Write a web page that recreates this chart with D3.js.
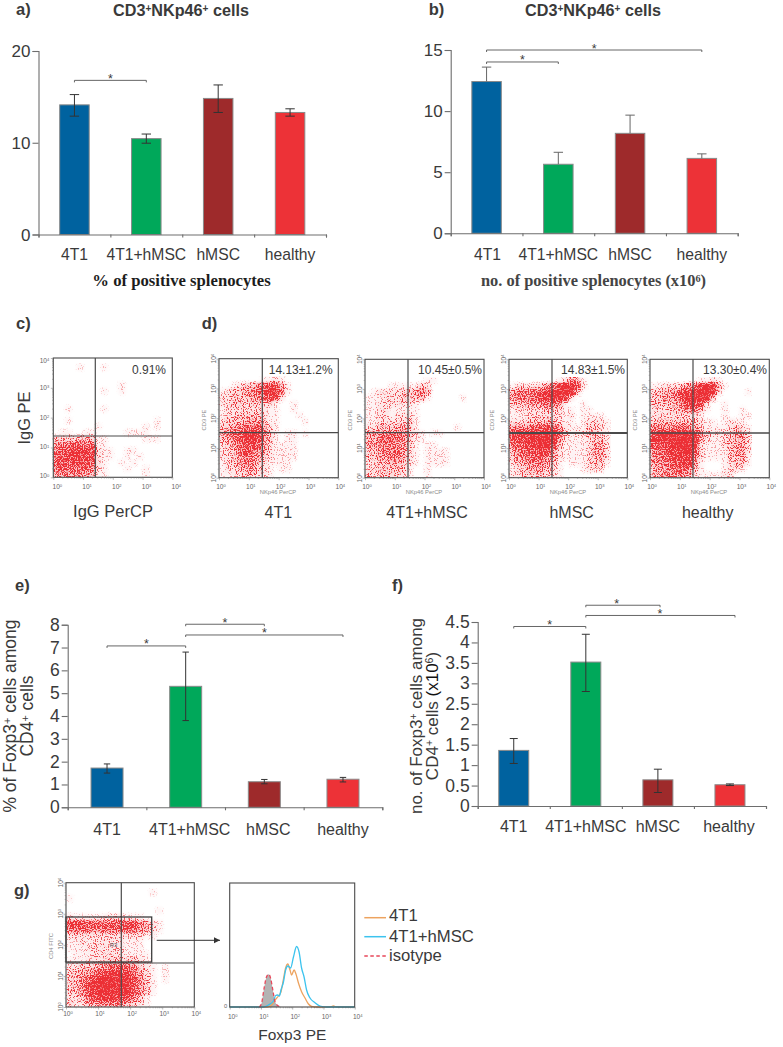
<!DOCTYPE html>
<html><head><meta charset="utf-8">
<script src="https://cdn.jsdelivr.net/npm/d3@7"></script>
<style>html,body{margin:0;padding:0;background:#fff}svg{display:block}text{font-family:"Liberation Sans",Arial,sans-serif;fill:#3a3a3a}</style>
</head><body><svg id="c" width="783" height="1047"></svg>
<script>
// ---------- data ----------
const categories=["4T1","4T1+hMSC","hMSC","healthy"];
const barColors=["#00629f","#00a85a","#9e2a2b","#ed3237"];

const pctValues=[14.13,10.45,14.83,13.30];
const pctLow=[12.9,9.95,13.3,12.9];
const pctHigh=[15.25,10.95,16.3,13.7];
const pctTicks=[0,10,20];
const pctBrackets=[[0,1,16.8,0.5]];

const numValues=[12.42,5.65,8.18,6.13];
const numLow=[12.42,5.65,8.18,6.13];
const numHigh=[13.6,6.63,9.67,6.5];
const numTicks=[0,5,10,15];
const numBrackets=[[0,1,14.02,0.5],[0,3,15,1.5]];

const foxPctValues=[1.72,5.3,1.12,1.23];
const foxPctLow=[1.5,3.8,1.03,1.11];
const foxPctHigh=[1.9,6.8,1.22,1.31];
const foxPctTicks=[0,1,2,3,4,5,6,7,8];
const foxPctBrackets=[[0,1,7.07,0.5],[1,2,8.02,1.5],[1,3,7.55,2]];

const foxNumValues=[1.36,3.52,0.64,0.52];
const foxNumLow=[1.04,2.8,0.33,0.5];
const foxNumHigh=[1.65,4.2,0.9,0.54];
const foxNumTicks=[0,0.5,1,1.5,2,2.5,3,3.5,4,4.5];
const foxNumBrackets=[[0,1,4.39,0.5],[1,2.03,4.91,1.43],[1,3.07,4.66,2.03]];

const flowPercents=["0.91%","14.13±1.2%","10.45±0.5%","14.83±1.5%","13.30±0.4%"];
const decades=[1,10,100,1000,10000];

// event density on a 20x20 grid of 0.2-decade cells, top row = 10^4..10^3.8
const densityIsotype=["00000000000000000000","00001000100000000000","00000000000000000000","00000000000000000000","00000000000100000000","00000000100100000000","00000000000000000000","00000000000000000000","00100000100000000000","00000000000000000000","00100000000000000100","00000001000000010100","01100110000011110000","33333431100000011100","55566561100000000000","67788872110011000000","77888872110010100000","77777762100101000000","66666652100010010000","55555441100000010000"];
const density4T1=["00000000000000000000","00000000000000000000","00000000000000000000","00000001121000000000","00123356874100000000","12334567995100000000","22333456782000000000","22332332310010000000","12222222110010000000","12233332110001000000","23334443110000100000","33455665210000000000","45679985310110100000","34578875310110000000","23467764211110000000","22367654211110000000","22346543211110000000","12345532111100000000","12234432101100000000","11223322100000000000"];
const densityCombo=["00000000000000000000","00000000000000000000","00000000000000000000","00000000001100000000","00001111132000000000","01222233454000000000","11122233341000001000","11222222100000000000","11221111100000000000","11221222100000000000","11222223100000000000","22333343100000010000","44455553210110000000","44566553110000000000","44555543101100000000","33455542101111000000","33445542101111000000","22334432101111000000","22333331001000000000","32333321001000000000"];
const densityHMSC=["00000000000000000000","00000000000000000000","00000000000000000000","00000000125410000000","12222356899720000000","45556789999300000000","45556888982000000000","33344566510010000000","12222233211011000000","11122222212011110000","22233343211012221000","55556777421113321000","89999999731223321000","77889999421112332000","56788997311112442000","45677875211112442000","34566654211112342000","23455543101112331000","12344432100012220000","22333322100000000000"];
const densityHealthy=["00000000000000000000","00000000000000000000","00000000000000000000","00000000112100000000","11222356899410000000","33445789999200001000","33445899993000000000","33334688720010000000","22233456310010010000","22222222100010011000","33333333211012110000","55556654211112321000","89999998532223432000","88999999421123442000","77889999211123442000","56788997211113442000","55678886211113341000","45567885100012331000","34456653100012210000","44555542111122000000"];
const densityCD4=["00000000000000000000","00000000000001000000","10000000000000000000","00000000000000000000","00000000000000100000","21111122211100000000","77766666677542100000","66665666676542100000","22222222222211000000","11212222211100000000","11122222211100000000","01112222211110000000","11122233333210000000","22333456665321010000","33446788886421010000","33568999997531010000","33589999997531000000","33578999997531000000","22367888775310000000","32244555543210000000"];

// histogram: log10 of Foxp3 PE and event height
const isoX=[0.95,1.02,1.10,1.18,1.25,1.31,1.38,1.45,1.56,1.66];
const isoY=[0,3.7,18.7,30.3,32.7,28.7,17,5.3,1,0];
const hist4T1X=[0,1.2,1.34,1.45,1.56,1.64,1.72,1.79,1.86,1.93,1.98,2.06,2.12,2.2,2.3,2.41,2.52,2.62,2.78,3.2,3.32,3.42,4];
const hist4T1Y=[0,0,2,7,11,15,28,39,43,37,32,37,33,24,15.3,9,3,0.7,0,0,1,0,0];
const histComboX=[0,1.08,1.24,1.4,1.47,1.53,1.59,1.64,1.72,1.79,1.86,1.95,2.04,2.14,2.22,2.3,2.38,2.46,2.57,2.73,2.89,3.1,4];
const histComboY=[0,0,2,6,11.5,12,11,17,25,37,41,39,50,60.5,55,39,30,17,9,4.3,1,0,0];
const legendLabels=["4T1","4T1+hMSC","isotype"];

// ---------- drawing ----------
const svg=d3.select("#c");
const defs=svg.append("defs");
const f=defs.append("filter").attr("id","stipple").attr("x",0).attr("y",0).attr("width",1).attr("height",1).attr("color-interpolation-filters","sRGB");
f.append("feGaussianBlur").attr("in","SourceGraphic").attr("stdDeviation",1.8).attr("result","b");
f.append("feColorMatrix").attr("in","b").attr("type","matrix").attr("values","0 0 0 0 1 0 0 0 0 1 0 0 0 0 1 0 0 0 1 0").attr("result","ba");
f.append("feTurbulence").attr("type","fractalNoise").attr("baseFrequency",0.85).attr("numOctaves",1).attr("seed",4).attr("result","n");
f.append("feColorMatrix").attr("in","n").attr("type","matrix").attr("values","0 0 0 0 1 0 0 0 0 1 0 0 0 0 1 4 0 0 0 -1.5").attr("result","na");
f.append("feComposite").attr("in","ba").attr("in2","na").attr("operator","arithmetic").attr("k1",0).attr("k2",1.12).attr("k3",1).attr("k4",-1).attr("result","sum");
const tr=f.append("feComponentTransfer").attr("in","sum").attr("result","sharp");
tr.append("feFuncA").attr("type","linear").attr("slope",3).attr("intercept",0);
f.append("feFlood").attr("flood-color","#ec2f35").attr("result","red");
f.append("feComposite").attr("in","red").attr("in2","sharp").attr("operator","in").attr("result","dots");
f.append("feGaussianBlur").attr("in","dots").attr("stdDeviation",0.4).attr("result","soft");
f.append("feColorMatrix").attr("in","b").attr("type","matrix").attr("values","1 0 0 0 0 0 1 0 0 0 0 0 1 0 0 0 0 0 0.45 0").attr("result","base");
const mg=f.append("feMerge");mg.append("feMergeNode").attr("in","base");mg.append("feMergeNode").attr("in","soft");
const arrow=defs.append("marker").attr("id","arr").attr("viewBox","0 0 10 10").attr("refX",10).attr("refY",5).attr("markerWidth",6.5).attr("markerHeight",6.5).attr("markerUnits","userSpaceOnUse").attr("orient","auto");
arrow.append("path").attr("d","M0,0L10,5L0,10Z").attr("fill","#333");

function rich(sel,parts){parts.forEach(p=>{const t=sel.append("tspan").text(p[0]);
  if(p[1]==="sup")t.attr("dy","-0.42em").attr("font-size","62%");
  if(p[1]==="after")t.attr("dy","0.26em");
  if(p[2])t.style("fill",p[2]);});return sel;}
function label(x,y,txt,size,opt={}){const t=svg.append("text").attr("x",x).attr("y",y).attr("font-size",size).text(txt);
  Object.entries(opt).forEach(([k,v])=>t.attr(k,v));return t;}

function barPanel(c){
  const y=d3.scaleLinear().domain([0,c.max]).range([c.y0,c.y1]);
  const x=d3.scaleLinear().domain([-0.5,3.5]).range([c.x0,c.x1]);
  const g=svg.append("g");
  const bw=c.bw;
  g.selectAll("rect.bar").data(c.values).join("rect").attr("class","bar")
    .attr("x",(d,i)=>x(i)-bw/2).attr("width",bw).attr("y",d=>y(d)).attr("height",d=>c.y0-y(d))
    .attr("fill",(d,i)=>barColors[i]).attr("stroke","#8a8a8a").attr("stroke-width",1);
  const ax=g.append("g").attr("transform",`translate(0,${c.y0})`).call(d3.axisBottom(x).tickValues([-0.5,0.5,1.5,2.5,3.5]).tickSize(3).tickFormat(""));
  const ay=g.append("g").attr("transform",`translate(${c.x0},0)`).call(d3.axisLeft(y).tickValues(c.ticks).tickSize(6).tickFormat(""));
  [ax,ay].forEach(a=>{a.selectAll("path,line").attr("stroke","#6e6e6e").attr("stroke-width",1.1);});
  c.ticks.forEach(t=>label(c.x0-8,y(t)+6,String(t),c.tickFont,{"text-anchor":"end"}));
  c.values.forEach((d,i)=>{
    const cx=x(i);
    g.append("line").attr("x1",cx).attr("x2",cx).attr("y1",y(c.low[i])).attr("y2",y(c.high[i])).attr("stroke",c.errColor).attr("stroke-width",1);
    [c.low[i],c.high[i]].forEach(v=>{ if(v===d)return;
      g.append("line").attr("x1",cx-c.cap).attr("x2",cx+c.cap).attr("y1",y(v)).attr("y2",y(v)).attr("stroke",c.errColor).attr("stroke-width",1);});
  });
  c.brackets.forEach(b=>{
    const a=x(b[0]),e=x(b[1]),yy=y(b[2]);
    g.append("path").attr("d",`M${a},${yy+2}V${yy}H${e}V${yy+2}`).attr("fill","none").attr("stroke","#555").attr("stroke-width",0.9);
    label(x(b[3]),yy+2.5,"*",12.5,{"text-anchor":"middle"});
  });
  categories.forEach((n,i)=>label(x(i)+(c.labelDx?c.labelDx[i]:0),c.labelY,n,c.labelFont,{"text-anchor":"middle"}));
}

barPanel({x0:38.5,x1:326,y0:234.5,y1:51,max:20,bw:29.5,cap:4.7,errColor:"#333",values:pctValues,low:pctLow,high:pctHigh,ticks:pctTicks,brackets:pctBrackets,tickFont:17,labelFont:15.7,labelY:260});
barPanel({x0:450.7,x1:737.7,y0:233.3,y1:50,max:15,bw:29.5,cap:4.7,errColor:"#666",values:numValues,low:numLow,high:numHigh,ticks:numTicks,brackets:numBrackets,tickFont:17,labelFont:15.7,labelY:259.5,labelDx:[1,0,0,0]});
barPanel({x0:67.7,x1:382.3,y0:807.3,y1:624.7,max:8,bw:32,cap:3.2,errColor:"#333",values:foxPctValues,low:foxPctLow,high:foxPctHigh,ticks:foxPctTicks,brackets:foxPctBrackets,tickFont:17.5,labelFont:16,labelY:835,labelDx:[0,4,4,0]});
barPanel({x0:477.7,x1:766,y0:806,y1:622,max:4.5,bw:30,cap:4,errColor:"#333",values:foxNumValues,low:foxNumLow,high:foxNumHigh,ticks:foxNumTicks,brackets:foxNumBrackets,tickFont:17.5,labelFont:16,labelY:832,labelDx:[0,0,0,-1]});

// panel letters and titles
[["a)",16,15],["b)",428.7,15],["c)",16,329],["d)",201.7,329],["e)",15,590.5],["f)",392,590.5],["g)",14,896]].forEach(p=>label(p[1],p[2],p[0],16.5,{"font-weight":"bold"}));
[[181,16],[593,16]].forEach(p=>{
  rich(label(p[0],p[1],"",16.2,{"font-weight":"bold","text-anchor":"middle"}),[["CD3"],["+","sup"],["NKp46","after"],["+","sup"],[" cells","after"]]);
});
label(181.5,286,"% of positive splenocytes",16.7,{"text-anchor":"middle","font-weight":"bold"}).style("font-family","'Liberation Serif',serif").style("fill","#1c1c1c");
rich(label(593.5,286,"",16.4,{"text-anchor":"middle","font-weight":"bold"}).style("font-family","'Liberation Serif',serif").style("fill","#444"),[["no. of positive splenocytes (x10",null,"#444"],["6","sup","#444"],[")","after","#444"]]);

// rotated y titles
function rotated(x,y,parts,size){const t=svg.append("text").attr("transform",`translate(${x},${y}) rotate(-90)`).attr("text-anchor","middle").attr("font-size",size);rich(t,parts);}
rotated(16,716,[["% of Foxp3"],["+","sup"],[" cells among","after"]],17.5);
rotated(33.3,716,[["CD4"],["+","sup"],[" cells","after"]],17.5);
rotated(421.5,716,[["no.  of Foxp3"],["+","sup"],[" cells among","after"]],17);
rotated(437.5,716,[["CD4"],["+","sup"],[" cells ","after"],["(x10",null,"#111"],["6","sup"],[")","after"]],17);

// flow panels
const minorTicks=d3.range(0,4).flatMap(k=>d3.range(2,10).map(m=>m*Math.pow(10,k)));
let clipId=0;
function flow(c){
  const gr=c.grid;
  const cx=d3.scaleBand().domain(d3.range(20)).range([c.x0,c.x1]);
  const cy=d3.scaleBand().domain(d3.range(20)).range([c.y0,c.y1]);
  const lx=d3.scaleLog().domain([1,1e4]).range([c.x0,c.x1]);
  const ly=d3.scaleLog().domain([1,1e4]).range([c.y1,c.y0]);
  const alpha=d3.scaleLinear().domain([0,9]).range([0,1]);
  const id="clip"+(clipId++);
  defs.append("clipPath").attr("id",id).append("rect").attr("x",c.x0).attr("y",c.y0).attr("width",c.x1-c.x0).attr("height",c.y1-c.y0);
  const cells=gr.flatMap((row,r)=>row.split("").map((v,k)=>({r,k,v:+v}))).filter(d=>d.v>0);
  svg.append("g").attr("clip-path",`url(#${id})`).append("g").attr("filter","url(#stipple)")
    .selectAll("rect").data(cells).join("rect")
    .attr("x",d=>cx(d.k)).attr("y",d=>cy(d.r)).attr("width",cx.bandwidth()+0.5).attr("height",cy.bandwidth()+0.5)
    .attr("fill","#ec3237").attr("fill-opacity",d=>alpha(d.v));
  const g=svg.append("g");
  g.append("rect").attr("x",c.x0).attr("y",c.y0).attr("width",c.x1-c.x0).attr("height",c.y1-c.y0).attr("fill","none").attr("stroke","#4a4a4a").attr("stroke-width",1.1);
  g.append("line").attr("x1",c.gateX).attr("x2",c.gateX).attr("y1",c.y0).attr("y2",c.y1).attr("stroke","#4a4a4a").attr("stroke-width",1.2);
  g.append("line").attr("x1",c.x0).attr("x2",c.x1).attr("y1",c.gateY).attr("y2",c.gateY).attr("stroke","#4a4a4a").attr("stroke-width",c.gateW||1.2);
  [[d3.axisBottom(lx),`translate(0,${c.y1})`],[d3.axisLeft(ly),`translate(${c.x0},0)`]].forEach(([ax,tr])=>{
    [[decades,2.5],[minorTicks,1.3]].forEach(([vals,sz])=>{
      const a=g.append("g").attr("transform",tr).call(ax.tickValues(vals).tickSize(sz).tickFormat(""));
      a.select(".domain").remove();a.selectAll("line").attr("stroke","#777").attr("stroke-width",0.5);
    });
  });
  decades.forEach((v,i)=>{
    const t=label(lx(v)+(c.xLabelDx||2),c.xLabelY,"",6.6,{"text-anchor":"middle"}).style("fill","#666");
    rich(t,[["10"],[String(i),"sup"]]);
    if(c.yHorizontal){
      rich(label(c.x0-4,ly(v)+(i===4?5:2)-(i===0?1:0),"",6.6,{"text-anchor":"end"}).style("fill","#666"),[["10"],[String(i),"sup"]]);
    } else {
      const q=svg.append("text").attr("transform",`translate(${c.x0-3.5},${ly(v)}) rotate(-90)`).attr("text-anchor","middle").attr("font-size",6.6).style("fill","#666");
      rich(q,[["10"],[String(i),"sup"]]);
    }
  });
}
const flowRows=[
 {grid:densityIsotype,x0:53.3,x1:172.3,y0:358,y1:477.3,gateX:95.3,gateY:436,yHorizontal:true,xLabelY:488.5,xLabelDx:4},
 {grid:density4T1,x0:219,x1:338.3,y0:358.7,y1:477.7,gateX:262.3,gateY:432.7,xLabelY:488.5},
 {grid:densityCombo,x0:365,x1:484,y0:359.3,y1:477.7,gateX:408,gateY:432.7,xLabelY:488.5},
 {grid:densityHMSC,x0:509,x1:627.3,y0:359.3,y1:477.7,gateX:552,gateY:433,gateW:1.9,xLabelY:488.5},
 {grid:densityHealthy,x0:650,x1:769.3,y0:359.3,y1:477.7,gateX:693,gateY:433,gateW:1.5,xLabelY:488.5}
];
flowRows.forEach(flow);
[[166,0],[332.7,1],[482,2],[625,3],[767,4]].forEach(p=>label(p[0],374,flowPercents[p[1]],12,{"text-anchor":"end"}));
[[278.3],[427],[571.7],[707.7]].forEach((p,i)=>label(p[0],518,categories[i],16,{"text-anchor":"middle"}));
[[278],[424],[568],[709]].forEach(p=>label(p[0],494,"NKp46 PerCP",5.8,{"text-anchor":"middle"}).style("fill","#8a8a8a"));
[205.5,351.5,494,637].forEach(xx=>svg.append("text").attr("transform",`translate(${xx},420) rotate(-90)`).attr("text-anchor","middle").attr("font-size",5.8).style("fill","#8a8a8a").text("CD3 PE"));
svg.append("text").attr("transform","translate(30,418) rotate(-90)").attr("text-anchor","middle").attr("font-size",16.5).text("IgG PE");
label(113,517,"IgG PerCP",16.5,{"text-anchor":"middle"});

// panel g
flow({grid:densityCD4,x0:66,x1:194.3,y0:882.7,y1:1007,gateX:121.3,gateY:963,xLabelY:1016});
svg.append("rect").attr("x",66).attr("y",917).attr("width",85.7).attr("height",45).attr("fill","none").attr("stroke","#3c3c3c").attr("stroke-width",1.3);
label(113.5,947,"R3",5.8,{"text-anchor":"middle"}).style("fill","#555");
svg.append("text").attr("transform","translate(52.5,946) rotate(-90)").attr("text-anchor","middle").attr("font-size",5.8).style("fill","#8a8a8a").text("CD4 FITC");
svg.append("line").attr("x1",156.7).attr("x2",220).attr("y1",940.3).attr("y2",940.3).attr("stroke","#333").attr("stroke-width",1).attr("marker-end","url(#arr)");

// histogram
const hx=d3.scaleLog().domain([1,1e4]).range([229.7,354.7]);
const hy=d3.scaleLinear().domain([0,124]).range([1007,883]);
const line=d3.line().x(d=>hx(Math.pow(10,d[0]))).y(d=>hy(d[1])).curve(d3.curveMonotoneX);
const zip=(a,b)=>a.map((v,i)=>[v,b[i]]);
svg.append("path").attr("d",d3.area().x(d=>hx(Math.pow(10,d[0]))).y0(hy(0)).y1(d=>hy(d[1])).curve(d3.curveMonotoneX)(zip(isoX,isoY))).attr("fill","#b3b3b3");
svg.append("path").attr("d",line(zip(hist4T1X,hist4T1Y))).attr("fill","none").attr("stroke","#eda35f").attr("stroke-width",1.3);
svg.append("path").attr("d",line(zip(histComboX,histComboY))).attr("fill","none").attr("stroke","#3cc3ee").attr("stroke-width",1.3);
svg.append("path").attr("d",line(zip(isoX,isoY))).attr("fill","none").attr("stroke","#e8475a").attr("stroke-width",1.3).attr("stroke-dasharray","3.5,2.5");
svg.append("rect").attr("x",229.7).attr("y",883).attr("width",125).attr("height",124).attr("fill","none").attr("stroke","#4a4a4a").attr("stroke-width",1.1);
[[decades,2.5],[minorTicks,1.3]].forEach(([vals,sz])=>{
  const a=svg.append("g").attr("transform","translate(0,1007)").call(d3.axisBottom(hx).tickValues(vals).tickSize(sz).tickFormat(""));
  a.select(".domain").remove();a.selectAll("line").attr("stroke","#666").attr("stroke-width",0.5);
});
decades.forEach((v,i)=>rich(label(hx(v)+3,1019,"",6.6,{"text-anchor":"middle"}).style("fill","#666"),[["10"],[String(i),"sup"]]));
label(225.5,1008,"0",5.8,{"text-anchor":"middle"}).style("fill","#666");
label(292.3,1039.5,"Foxp3 PE",15.5,{"text-anchor":"middle"});
[["#eda35f",917.7,920.8,null],["#3cc3ee",936.7,942,null],["#e8475a",956,961,"3.5,2.5"]].forEach((l,i)=>{
  svg.append("line").attr("x1",364.3).attr("x2",386).attr("y1",l[1]).attr("y2",l[1]).attr("stroke",l[0]).attr("stroke-width",1.5).attr("stroke-dasharray",l[3]);
  label(389,l[2],legendLabels[i],16.7);
});
</script></body></html>
